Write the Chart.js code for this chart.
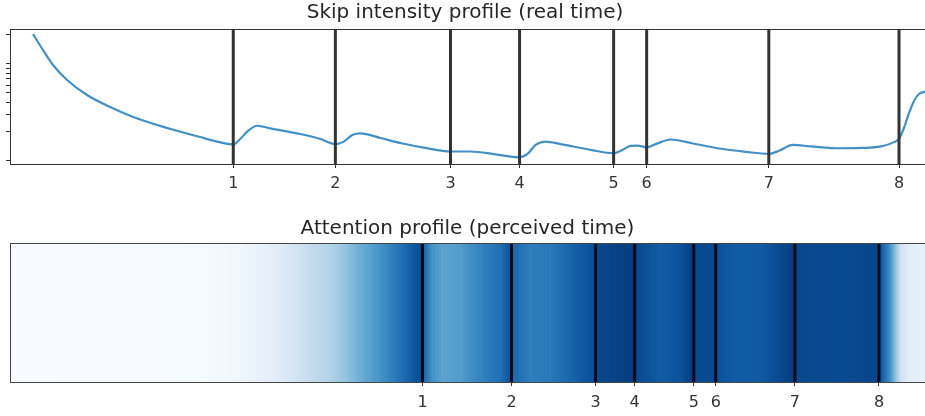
<!DOCTYPE html>
<html>
<head>
<meta charset="utf-8">
<script src="https://cdn.jsdelivr.net/npm/chart.js@4.4.1/dist/chart.umd.min.js"></script>
<style>
  html, body { margin: 0; padding: 0; background: #fff; overflow: hidden; }
  #arriba { position: absolute; left: 0; top: 0; }
  #abajo { position: absolute; left: 0; top: 208px; }
</style>
</head>
<body>
<canvas id="arriba" width="925" height="208"></canvas>
<canvas id="abajo" width="925" height="208"></canvas>
<script>
// Perfil de intensidad de saltos (tiempo real)
var tiempoReal = [2.52, 3.61, 4.70, 6.24, 8.42, 10.94, 13.46, 17.18, 20.79, 22.43, 24.40, 25.16, 26.04, 27.02, 28.45,
    31.73, 33.92, 35.56, 36.43, 37.42, 38.29, 40.48, 42.67, 45.40, 48.14, 50.33, 53.06, 55.69, 56.56, 57.44, 58.53,
    60.18, 63.46, 65.97, 66.96, 67.83, 68.60, 69.58, 70.57, 72.21, 74.40, 77.35, 80.42, 82.93, 84.03, 85.56, 87.53,
    90.81, 93.00, 95.19, 96.61, 97.16, 97.70, 98.14, 98.80, 99.34, 100.0];
var intensidad = [20.1, 13.8, 9.68, 6.79, 4.76, 3.58, 2.83, 2.18, 1.76, 1.60, 1.48, 1.68, 2.05, 2.30, 2.16,
    1.89, 1.68, 1.49, 1.57, 1.85, 1.92, 1.72, 1.53, 1.36, 1.25, 1.25, 1.17, 1.09, 1.18, 1.46, 1.58,
    1.49, 1.30, 1.20, 1.30, 1.43, 1.44, 1.38, 1.49, 1.66, 1.53, 1.35, 1.24, 1.18, 1.27, 1.46, 1.41,
    1.35, 1.36, 1.41, 1.56, 1.70, 2.18, 2.90, 4.13, 4.87, 5.17];

// Saltos en tiempo real y en tiempo percibido
var limitesReal = [24.40, 35.56, 48.14, 55.69, 65.97, 69.58, 82.93, 97.16];
var limitesPercibido = [45.08, 54.81, 64.00, 68.27, 74.73, 77.13, 85.78, 94.97];
var etiquetas = ['1', '2', '3', '4', '5', '6', '7', '8'];

// Marcas del eje logaritmico (sin texto)
var marcasY = [1, 2, 3, 4, 5, 6, 7, 8, 9, 10, 20];

// Perfil de atencion (tiempo percibido)
var posAtencion = [0, 20.79, 25.16, 28.45, 31.18, 32.82, 35.01, 36.65, 38.29, 40.48,
    42.67, 44.64, 44.97, 45.19, 46.17, 47.26, 49.23, 51.42, 53.61, 54.60,
    55.03, 56.89, 59.08, 61.27, 63.79, 64.22, 66.19, 68.05, 68.49, 71.12,
    73.30, 74.51, 74.95, 76.91, 77.35, 79.32, 82.06, 84.25, 85.56, 86.00,
    90.81, 94.75, 95.19, 95.62, 96.06, 96.50, 96.94, 97.37, 98.14, 100];
var valAtencion = [0.0, 0.01, 0.04, 0.09, 0.18, 0.25, 0.31, 0.40, 0.50, 0.62,
    0.75, 0.88, 0.90, 0.80, 0.62, 0.55, 0.58, 0.68, 0.76, 0.86,
    0.78, 0.70, 0.72, 0.80, 0.88, 0.91, 0.93, 0.95, 0.91, 0.83,
    0.87, 0.95, 0.90, 0.91, 0.87, 0.83, 0.84, 0.91, 0.95, 0.91,
    0.90, 0.92, 0.85, 0.75, 0.66, 0.52, 0.35, 0.20, 0.11, 0.08];

var yMin = 0.93, yMax = 22.7;

Chart.defaults.font.family = "'DejaVu Sans', sans-serif";

// Paleta "Blues"
var paleta = [[247,251,255],[222,235,247],[198,219,239],[158,202,225],[107,174,214],[66,146,198],[33,113,181],[8,81,156],[8,48,107]];
function colorBlues(v) {
    v = Math.max(0, Math.min(1, v)) * (paleta.length - 1);
    var i = Math.min(Math.floor(v), paleta.length - 2);
    var f = v - i;
    var a = paleta[i], b = paleta[i + 1];
    return 'rgb(' + Math.round(a[0] + (b[0] - a[0]) * f) + ',' + Math.round(a[1] + (b[1] - a[1]) * f) + ',' + Math.round(a[2] + (b[2] - a[2]) * f) + ')';
}

// Marco alrededor del area del grafico
var marco = {
    id: 'marco',
    afterDatasetsDraw: function (chart, args, opts) {
        var a = chart.chartArea, c = chart.ctx;
        c.save();
        c.strokeStyle = opts.color || '#333';
        c.lineWidth = 1;
        c.strokeRect(a.left + 0.5, a.top + 0.5, a.right - a.left, a.bottom - a.top);
        c.restore();
    }
};

function ejeX(limites, alto, relleno) {
    return {
        type: 'linear',
        min: 0,
        max: 100,
        offset: false,
        afterBuildTicks: function (scale) {
            scale.ticks = limites.map(function (v) { return { value: v }; });
        },
        afterFit: function (scale) { scale.height = alto; },
        ticks: {
            autoSkip: false,
            maxRotation: 0,
            color: '#333',
            padding: relleno,
            font: { size: 16 },
            callback: function (v, i) { return etiquetas[i]; }
        },
        grid: { offset: false, drawOnChartArea: false, drawTicks: true, tickLength: 4, tickColor: '#333', tickWidth: 1 },
        border: { display: false }
    };
}

function titulo(texto, arriba, abajo) {
    return {
        display: true,
        text: texto,
        color: '#262626',
        font: { size: 20, weight: 'normal', lineHeight: 1.2 },
        padding: { top: arriba, bottom: abajo }
    };
}

// Degradado horizontal de cada franja entre sus dos valores
function colorFranja(ctx) {
    var k = ctx.dataIndex;
    var xs = ctx.chart.scales.x;
    if (k === undefined || !xs) return colorBlues(0);
    var x0 = xs.getPixelForValue(posAtencion[k]);
    var x1 = xs.getPixelForValue(posAtencion[k + 1]);
    if (!isFinite(x0) || !isFinite(x1) || x1 <= x0) return colorBlues(valAtencion[k]);
    var g = ctx.chart.ctx.createLinearGradient(x0, 0, x1, 0);
    g.addColorStop(0, colorBlues(valAtencion[k]));
    g.addColorStop(1, colorBlues(valAtencion[k + 1]));
    return g;
}

window.onload = function () {
    // Grafico superior: intensidad de saltos
    var datosArriba = limitesReal.map(function (b) {
        return {
            data: [{ x: b, y: yMin }, { x: b, y: yMax }],
            showLine: true,
            borderColor: '#333',
            borderWidth: 3,
            pointRadius: 0,
            order: 0
        };
    });
    datosArriba.push({
        data: tiempoReal.map(function (t, i) { return { x: t, y: intensidad[i] }; }),
        showLine: true,
        borderColor: '#4290c6',
        borderWidth: 2.2,
        pointRadius: 0,
        cubicInterpolationMode: 'monotone',
        order: 1
    });

    new Chart(document.getElementById('arriba'), {
        type: 'scatter',
        data: { datasets: datosArriba },
        plugins: [marco],
        options: {
            responsive: false,
            animation: false,
            devicePixelRatio: 1,
            layout: { padding: { left: 5, right: 0, top: 0, bottom: 0 } },
            scales: {
                x: ejeX(limitesReal, 44, 6),
                y: {
                    type: 'logarithmic',
                    min: yMin,
                    max: yMax,
                    afterBuildTicks: function (scale) {
                        scale.ticks = marcasY.map(function (v) { return { value: v }; });
                    },
                    afterFit: function (scale) { scale.width = 5; },
                    ticks: { autoSkip: false, callback: function () { return ''; } },
                    grid: { drawOnChartArea: false, drawTicks: true, tickLength: 4, tickColor: '#333' },
                    border: { display: false }
                }
            },
            plugins: {
                legend: { display: false },
                tooltip: { enabled: false },
                title: titulo('Skip intensity profile (real time)', 1, 4),
                marco: { color: '#333' }
            }
        }
    });

    // Grafico inferior: franjas de atencion
    var franjas = [];
    for (var i = 0; i < posAtencion.length - 1; i++) {
        franjas.push({ x: [posAtencion[i], posAtencion[i + 1]], y: 'fila' });
    }

    var datosAbajo = [{
        type: 'bar',
        indexAxis: 'y',
        data: franjas,
        barPercentage: 1,
        categoryPercentage: 1,
        borderWidth: 0,
        order: 1,
        backgroundColor: colorFranja
    }];
    limitesPercibido.forEach(function (b) {
        datosAbajo.push({
            type: 'line',
            indexAxis: 'x',
            yAxisID: 'yl',
            data: [{ x: b, y: 0 }, { x: b, y: 1 }],
            borderColor: '#050a14',
            borderWidth: 3,
            pointRadius: 0,
            order: 0
        });
    });

    new Chart(document.getElementById('abajo'), {
        type: 'bar',
        data: { datasets: datosAbajo },
        plugins: [marco],
        options: {
            responsive: false,
            animation: false,
            devicePixelRatio: 1,
            layout: { padding: { left: 10, right: 0, top: 0, bottom: 0 } },
            scales: {
                x: ejeX(limitesPercibido, 34, 7),
                y: { type: 'category', labels: ['fila'], display: false },
                yl: { type: 'linear', axis: 'y', min: 0, max: 1, display: false }
            },
            plugins: {
                legend: { display: false },
                tooltip: { enabled: false },
                title: titulo('Attention profile (perceived time)', 8.5, 2.5),
                marco: { color: '#444' }
            }
        }
    });
};
</script>
</body>
</html>
